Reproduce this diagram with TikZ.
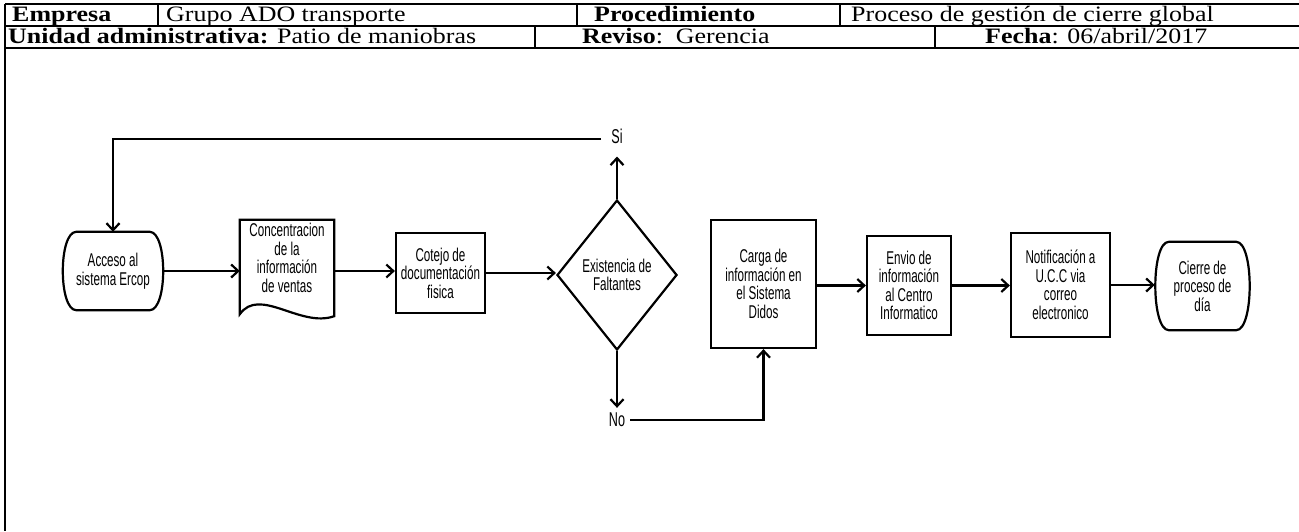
\documentclass[tikz,border=0pt]{standalone}
\usepackage{fontspec}
\usetikzlibrary{arrows.meta,shapes.geometric}
\newfontfamily\hdrfont{Liberation Serif}[FakeStretch=1.18]
\newfontfamily\flowfont{Liberation Sans}[FakeStretch=0.63]
\begin{document}
\begin{tikzpicture}[x=1pt,y=-1pt,
  tbl/.style={line width=1.8pt},
  hd/.style={anchor=base west,inner sep=0pt,font=\hdrfont\fontsize{22}{23}\selectfont},
  ln/.style={line width=2.2pt},
  arr/.style={line width=2.2pt,-{Straight Barb[length=7pt,width=13pt]}},
  box/.style={draw,line width=2.2pt,rectangle,align=center,inner sep=0pt,font=\flowfont\fontsize{18.5}{18.5}\selectfont},
  txt/.style={align=center,inner sep=0pt,font=\flowfont\fontsize{18.5}{18.5}\selectfont},
  lbl/.style={inner sep=1pt,font=\flowfont\fontsize{20}{20}\selectfont}
]
\useasboundingbox[fill=white] (0,0) rectangle (1299,531);
% header table
\draw[tbl] (5,4) -- (1299,4);
\draw[tbl] (5,26) -- (1299,26);
\draw[tbl] (5,48) -- (1299,48);
\draw[tbl] (5,4) -- (5,531);
\draw[tbl] (158,4) -- (158,26);
\draw[tbl] (577,4) -- (577,26);
\draw[tbl] (840,4) -- (840,26);
\draw[tbl] (535,26) -- (535,48);
\draw[tbl] (935,26) -- (935,48);
\node[hd] (h1) at (12,21.5) {\bfseries Empresa};
\node[hd] (h2) at (166,21.5) {Grupo ADO transporte};
\node[hd] (h3) at (594,21.5) {\bfseries Procedimiento};
\node[hd] (h4) at (851,21.5) {Proceso de gestión de cierre global};
\node[hd] (h5) at (8,43.5) {\bfseries Unidad administrativa:\mdseries{} Patio de maniobras};
\node[hd] (h6) at (582,43.5) {\bfseries Reviso\mdseries:\ \ Gerencia};
\node[hd] (h7) at (985,43.5) {\bfseries Fecha\mdseries: 06/abril/2017};
% flowchart
\node[txt,minimum width=101pt,minimum height=78pt] (acc) at (113,271) {Acceso al\\sistema Ercop};
\draw[ln] ([xshift=14pt]acc.north west) -- ([xshift=-14pt]acc.north east)
  .. controls ([xshift=4pt]acc.north east) and ([xshift=4pt]acc.south east) .. ([xshift=-14pt]acc.south east)
  -- ([xshift=14pt]acc.south west)
  .. controls ([xshift=-4pt]acc.south west) and ([xshift=-4pt]acc.north west) .. cycle;
\node[minimum width=94pt,minimum height=94pt,inner sep=0pt] (doc) at (287,267) {};
\draw[ln] (doc.south west) -- (doc.north west) -- (doc.north east) -- ([yshift=-2pt]doc.south east)
  .. controls ([xshift=-34pt,yshift=-14pt]doc.south east) and ([xshift=20pt,yshift=28pt]doc.south west) .. (doc.south west) -- cycle;
\node[txt] (doctxt) at (287,258) {Concentracion\\de la\\información\\de ventas};
\node[box,minimum width=89pt,minimum height=80pt] (cot) at (440.5,273) {Cotejo de\\documentación\\fisica};
\node[box,shape=diamond,minimum width=120pt,minimum height=150pt] (dia) at (617,275) {Existencia de\\Faltantes};
\node[lbl] (si) at (617,136) {Si};
\node[lbl] (no) at (617,420) {No};
\node[box,minimum width=105pt,minimum height=128pt] (car) at (763.5,284) {Carga de\\información en\\el Sistema\\Didos};
\node[box,minimum width=84pt,minimum height=99pt] (env) at (909,285.5) {Envio de\\información\\al Centro\\Informatico};
\node[box,minimum width=99pt,minimum height=104pt] (not) at (1060.5,285) {Notificación a\\U.C.C via\\correo\\electronico};
\node[txt,minimum width=95pt,minimum height=88pt] (cie) at (1202.5,286) {Cierre de\\proceso de\\día};
\draw[ln] ([xshift=14pt]cie.north west) -- ([xshift=-14pt]cie.north east)
  .. controls ([xshift=4pt]cie.north east) and ([xshift=4pt]cie.south east) .. ([xshift=-14pt]cie.south east)
  -- ([xshift=14pt]cie.south west)
  .. controls ([xshift=-4pt]cie.south west) and ([xshift=-4pt]cie.north west) .. cycle;
% connectors
\draw[arr] (acc.east) -- (acc.east -| doc.west);
\draw[arr] (acc.east -| doc.east) -- (acc.east -| cot.west);
\draw[arr] (cot.east) -- (cot.east -| dia.west);
\draw[arr] (dia.north) -- ([yshift=-12pt]si.south);
\draw[arr] ([xshift=-9pt,yshift=-3pt]si.west) -| (acc.north);
\draw[arr] (dia.south) -- ([yshift=4pt]no.north);
\draw[arr] ([xshift=4pt]no.east) -| (car.south);
\draw[arr] (car.east |- env.west) -- (env.west);
\draw[arr] (env.east) -- (env.east -| not.west);
\draw[arr] (not.east) -- (not.east -| cie.west);
\end{tikzpicture}
\end{document}
